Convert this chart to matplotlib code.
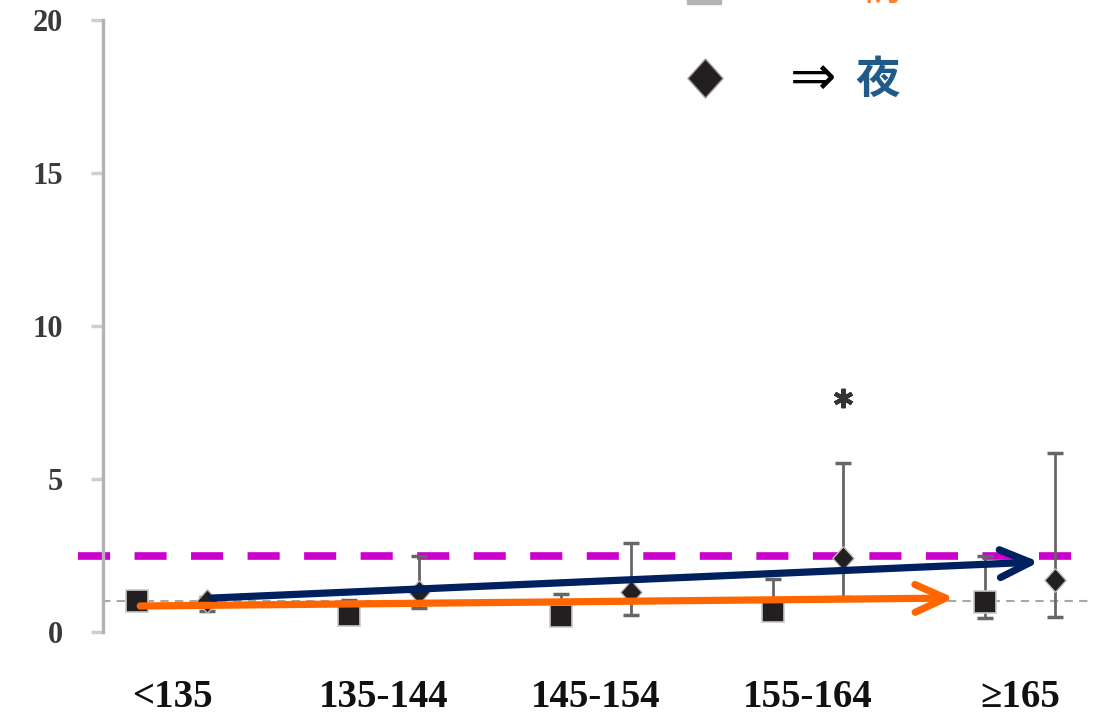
import numpy as np
import matplotlib.pyplot as plt
from matplotlib.lines import Line2D

# Systolic BP groups (mmHg)
groups = ['<135', '135-144', '145-154', '155-164', '≥165']

# Morning (squares): value with lower / upper limits
morning = [1.0, 0.56, 0.52, 0.69, 0.98]
morning_lo = [1.0, 0.30, 0.30, 0.45, 0.46]
morning_hi = [1.0, 1.05, 1.25, 1.73, 2.50]

# Night (diamonds)
night = [1.0, 1.31, 1.31, 2.42, 1.70]
night_lo = [0.70, 0.78, 0.56, 1.14, 0.49]
night_hi = [1.15, 2.50, 2.90, 5.52, 5.85]

ref_level = 1.0
threshold = 2.5
star_group = 3
star_level = 7.65

# trend arrows (start, end) in axis units
trend_morning = [(-0.15, 0.85), (3.69, 1.11)]
trend_night = [(0.19, 1.11), (4.09, 2.29)]

W, H = 1102, 715
fig = plt.figure(figsize=(W / 100, H / 100), dpi=100)
ax = fig.add_axes([103 / W, (H - 632) / H, (1100 - 103) / W, (632 - 20) / H])

x = np.arange(len(groups))
xm = x - 0.165
xn = x + 0.165

diamond = [(0, 1), (0.9, 0), (0, -1), (-0.9, 0), (0, 1)]

# reference and threshold lines
ax.plot([-0.33, 4.33], [ref_level] * 2, color='#a8a8a8', lw=1.5,
        ls=(0, (4, 3)), zorder=1)
ax.plot([-0.443, 4.33], [threshold] * 2, color='#cc00cc', lw=5.5,
        ls=(0, (4.2, 3.2)), solid_capstyle='butt', dash_capstyle='butt',
        zorder=1, clip_on=False)

def whiskers(xs, v, lo, hi):
    v = np.array(v)
    err = [v - np.array(lo), np.array(hi) - v]
    ax.errorbar(xs, v, yerr=err, fmt='none', ecolor='#666666', elinewidth=2,
                capsize=6, capthick=2.5, zorder=2, clip_on=False)

whiskers(xm, morning, morning_lo, morning_hi)
whiskers(xn, night, night_lo, night_hi)

ax.plot(xm, morning, 's', ms=16, mfc='#231f20', mec='#c8c8c8', mew=1.2,
        ls='none', zorder=3, clip_on=False)
ax.plot(xn, night, marker=diamond, ms=17, mfc='#231f20', mec='#bbbbbb',
        mew=1, ls='none', zorder=3, clip_on=False)

ax.plot(xn[star_group], star_level, marker=(6, 2, 0), ms=14, mew=3,
        color='#333333', zorder=3)

# trend arrows
for (p0, p1), col in [(trend_morning, '#ff6600'), (trend_night, '#002060')]:
    ax.annotate('', xy=p1, xytext=p0,
                arrowprops=dict(arrowstyle='->, head_length=2.2, head_width=1.0',
                                mutation_scale=10, color=col, lw=5.2,
                                capstyle='round', joinstyle='round',
                                shrinkA=0, shrinkB=0),
                zorder=4)

ax.set_xlim(-0.3255, 4.377)
ax.set_ylim(0, 20)
ax.set_yticks([0, 5, 10, 15, 20])
ax.set_xticks(x)
ax.set_xticklabels(groups)

for s in ['top', 'right', 'bottom']:
    ax.spines[s].set_visible(False)
ax.spines['left'].set_color('#b3b3b3')
ax.spines['left'].set_linewidth(2.4)

ax.tick_params(axis='y', length=9, width=2.5, color='#cfcfcf', pad=20,
               labelsize=22, labelcolor='#3a3a3a')
ax.tick_params(axis='x', length=0, pad=34, labelsize=28, labelcolor='#111111')
for lab in ax.get_yticklabels() + ax.get_xticklabels():
    lab.set_family('Liberation Serif')
    lab.set_fontweight('bold')

# legend drawn in figure pixels
def fx(px):
    return px / W

def fy(py):
    return 1 - py / H

fig.add_artist(Line2D([fx(704)], [fy(-13)], marker='s', ms=24,
                      mfc='#b4b4b4', mec='#b4b4b4', transform=fig.transFigure))
fig.add_artist(Line2D([fx(705)], [fy(78)], marker=diamond, ms=28,
                      mfc='#231f20', mec='#999999', mew=1,
                      transform=fig.transFigure))
cjk = ['Noto Sans CJK JP', 'DejaVu Sans']
fig.text(fx(813), fy(-14), '⇒', fontsize=40, ha='center', va='center',
         family='DejaVu Sans', color='black')
fig.text(fx(878), fy(-14), '朝', fontsize=32, ha='center', va='center',
         family=cjk, color='#ff7f27')
fig.text(fx(813), fy(80), '⇒', fontsize=40, ha='center', va='center',
         family='DejaVu Sans', color='black')
fig.text(fx(878), fy(80), '夜', fontsize=32, ha='center', va='center',
         family=cjk, color='#1f5a8a', fontweight='bold')

fig.savefig('out.png', dpi=100)
